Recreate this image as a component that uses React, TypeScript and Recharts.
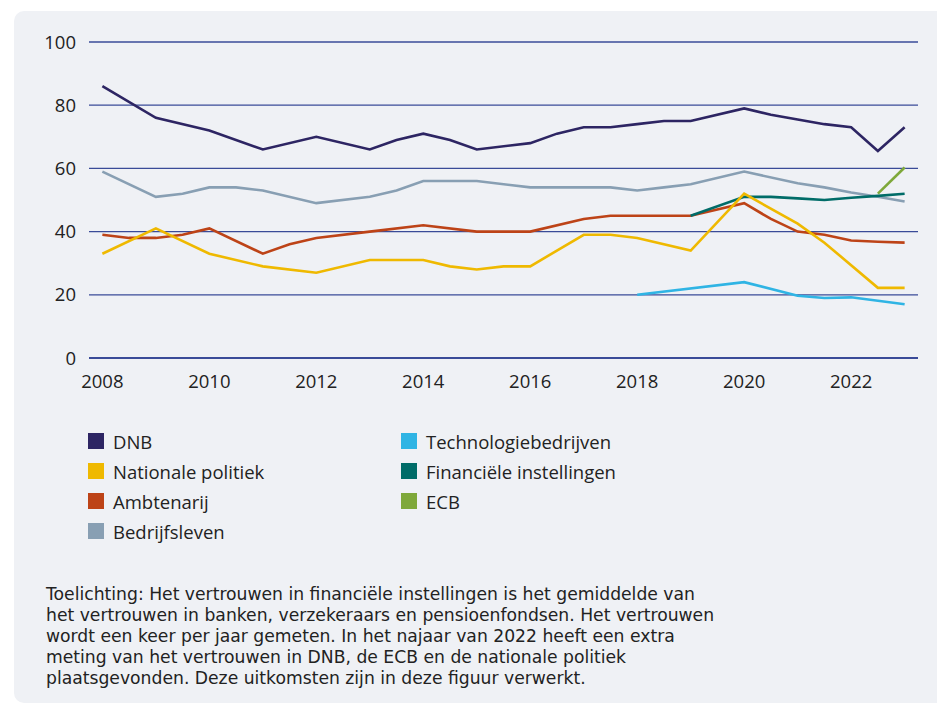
import { LineChart, Line, XAxis, YAxis, CartesianGrid } from "recharts";

const jaren = [
  2008, 2008.5, 2009, 2009.5, 2010, 2010.5, 2011, 2011.5, 2012, 2012.5, 2013, 2013.5, 2014, 2014.5, 2015, 2015.5,
  2016, 2016.5, 2017, 2017.5, 2018, 2018.5, 2019, 2019.5, 2020, 2020.5, 2021, 2021.5, 2022, 2022.5, 2023,
];

const dnb = [
  86, null, 76, null, 72, null, 66, null, 70, null, 66, 69, 71, 69, 66, null,
  68, 71, 73, 73, 74, 75, 75, null, 79, 77, 75.5, 74, 73, 65.5, 73,
];
const nationalePolitiek = [
  33, null, 41, null, 33, null, 29, null, 27, null, 31, null, 31, 29, 28, 29,
  29, null, 39, 39, 38, null, 34, null, 52, null, 42.5, 36.5, null, 22.2, 22.2,
];
const ambtenarij = [
  39, 38, 38, 39, 41, null, 33, 36, 38, null, 40, null, 42, null, 40, null,
  40, null, 44, 45, 45, null, 45, null, 49, 44, 40, 39, 37.2, 36.8, 36.5,
];
const bedrijfsleven = [
  59, null, 51, 52, 54, 54, 53, null, 49, null, 51, 53, 56, 56, 56, null,
  54, 54, 54, 54, 53, 54, 55, null, 59, null, 55.3, 54, 52.4, 51, 49.5,
];
const technologie = [
  null, null, null, null, null, null, null, null, null, null, null, null, null, null, null, null,
  null, null, null, null, 20, null, null, null, 24, null, 19.7, 19, 19.2, null, 17,
];
const financieel = [
  null, null, null, null, null, null, null, null, null, null, null, null, null, null, null, null,
  null, null, null, null, null, null, 45, null, 51, 51, 50.5, 50, 50.7, 51.3, 52,
];
const ecb = [
  null, null, null, null, null, null, null, null, null, null, null, null, null, null, null, null,
  null, null, null, null, null, null, null, null, null, null, null, null, null, 52, 60.3,
];

const xTicks = [2008, 2010, 2012, 2014, 2016, 2018, 2020, 2022];
const yTicks = [0, 20, 40, 60, 80, 100];

const series = [
  { key: "dnb", name: "DNB", color: "#2d2563", values: dnb },
  { key: "tech", name: "Technologiebedrijven", color: "#2fb4e4", values: technologie },
  { key: "pol", name: "Nationale politiek", color: "#efb900", values: nationalePolitiek },
  { key: "fin", name: "Financiële instellingen", color: "#006c68", values: financieel },
  { key: "amb", name: "Ambtenarij", color: "#bd4317", values: ambtenarij },
  { key: "ecb", name: "ECB", color: "#7ea83a", values: ecb },
  { key: "bed", name: "Bedrijfsleven", color: "#889fb3", values: bedrijfsleven },
];

// tekenvolgorde: onderste lijn eerst
const drawOrder = ["bed", "amb", "fin", "tech", "pol", "ecb", "dnb"];

const data = jaren.map((jaar, i) => {
  const row: Record<string, number | null> = { jaar };
  series.forEach((s) => (row[s.key] = s.values[i]));
  return row;
});

const legendLeft = series.filter((_, i) => i % 2 === 0);
const legendRight = series.filter((_, i) => i % 2 === 1);

const toelichting = [
  "Toelichting: Het vertrouwen in financiële instellingen is het gemiddelde van",
  "het vertrouwen in banken, verzekeraars en pensioenfondsen. Het vertrouwen",
  "wordt een keer per jaar gemeten. In het najaar van 2022 heeft een extra",
  "meting van het vertrouwen in DNB, de ECB en de nationale politiek",
  "plaatsgevonden. Deze uitkomsten zijn in deze figuur verwerkt.",
];

const font = "'Open Sans', sans-serif";
const fontSize = 18.5;
const textColor = "#222";
const gridColor = "#3a4b98";

function LegendItem({ name, color, x, y }: { name: string; color: string; x: number; y: number }) {
  return (
    <div style={{ position: "absolute", left: x, top: y - 12, height: 24, display: "flex", alignItems: "center" }}>
      <div style={{ width: 16, height: 16, background: color, marginRight: 9 }} />
      <span style={{ fontSize, color: textColor, whiteSpace: "nowrap" }}>{name}</span>
    </div>
  );
}

export default function App() {
  return (
    <div style={{ position: "absolute", left: 0, top: 0, width: 937, height: 708, background: "#fff", fontFamily: font, overflow: "hidden" }}>
      <div
        style={{
          position: "absolute",
          left: 14,
          top: 11,
          width: 923,
          height: 692,
          background: "#eff1f5",
          borderRadius: "10px 0 0 10px",
        }}
      />
      <div style={{ position: "absolute", left: 0, top: 0 }}>
        <LineChart width={937} height={400} data={data} margin={{ top: 42, right: 19, bottom: 12, left: 0 }}>
          <CartesianGrid vertical={false} stroke={gridColor} strokeWidth={1.3} />
          <XAxis
            dataKey="jaar"
            type="number"
            domain={[2007.75, 2023.25]}
            ticks={xTicks}
            height={30}
            tickLine={false}
            axisLine={{ stroke: gridColor, strokeWidth: 2 }}
            tickMargin={11}
            tick={{ fill: textColor, fontSize, fontFamily: font }}
          />
          <YAxis
            domain={[0, 100]}
            ticks={yTicks}
            width={89}
            tickLine={false}
            axisLine={false}
            tickMargin={7}
            tick={{ fill: textColor, fontSize, fontFamily: font }}
          />
          {drawOrder.map((k) => {
            const s = series.find((x) => x.key === k)!;
            return (
              <Line
                key={s.key}
                dataKey={s.key}
                name={s.name}
                stroke={s.color}
                strokeWidth={2.6}
                dot={false}
                activeDot={false}
                connectNulls
                isAnimationActive={false}
              />
            );
          })}
        </LineChart>
      </div>
      {legendLeft.map((s, i) => (
        <LegendItem key={s.key} name={s.name} color={s.color} x={88} y={441 + i * 30} />
      ))}
      {legendRight.map((s, i) => (
        <LegendItem key={s.key} name={s.name} color={s.color} x={401} y={441 + i * 30} />
      ))}
      <div
        style={{
          position: "absolute",
          left: 46,
          top: 584,
          fontFamily: "'DejaVu Sans', sans-serif",
          fontSize: 17.2,
          lineHeight: "21px",
          color: textColor,
          whiteSpace: "nowrap",
        }}
      >
        {toelichting.map((regel, i) => (
          <div key={i}>{regel}</div>
        ))}
      </div>
    </div>
  );
}
